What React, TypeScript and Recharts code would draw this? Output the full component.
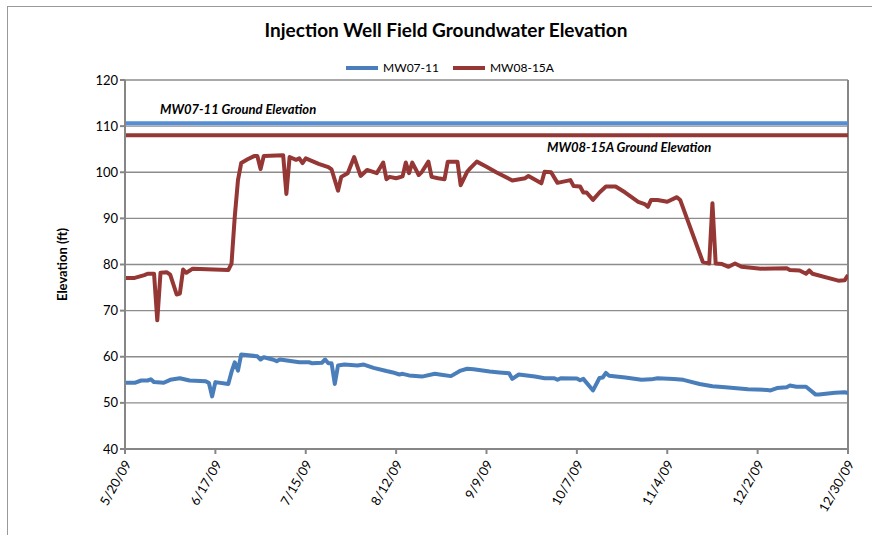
import React from "react";
import {
  LineChart, Line, XAxis, YAxis, CartesianGrid, ReferenceLine,
} from "recharts";

// days counted from 5/20/09
const mw0711Days = [
  0, 3, 5, 7, 8, 9, 12, 14, 17, 20, 25, 26, 27, 28, 32, 33, 34, 35, 36, 41,
  42, 43, 46, 47, 48, 54, 57, 58, 61, 62, 63, 64, 65, 66, 68, 72, 74, 77, 81, 83,
  85, 86, 88, 92, 96, 98, 101, 104, 106, 108, 113, 116, 119, 120, 122, 127, 130, 133, 134, 135,
  140, 141, 142, 145, 147, 148, 149, 150, 155, 160, 163, 165, 170, 173, 178, 182, 186, 193, 199, 200,
  202, 205, 206, 208, 211, 214, 215, 220, 223, 224,
];
const mw0711Elev = [
  54.35, 54.35, 54.85, 54.85, 55.1, 54.5, 54.35, 55.0, 55.35, 54.85, 54.7, 54.3, 51.4, 54.5, 54.1, 56.7, 58.8, 57.0, 60.5, 60.1,
  59.4, 59.9, 59.35, 59.05, 59.4, 58.8, 58.8, 58.6, 58.7, 59.4, 58.6, 58.6, 54.1, 58.1, 58.3, 58.1, 58.3, 57.6, 56.9, 56.6,
  56.15, 56.3, 55.95, 55.7, 56.3, 56.1, 55.8, 57.0, 57.4, 57.3, 56.8, 56.6, 56.4, 55.2, 56.15, 55.7, 55.35, 55.35, 55.0, 55.35,
  55.3, 54.9, 55.2, 52.7, 55.4, 55.5, 56.5, 55.9, 55.5, 55.0, 55.1, 55.35, 55.2, 55.0, 54.1, 53.6, 53.4, 52.95, 52.8, 52.7,
  53.2, 53.4, 53.75, 53.5, 53.5, 51.8, 51.8, 52.2, 52.3, 52.1,
];

const mw0815Days = [
  0, 3, 6, 7, 9, 10, 11, 13, 14, 16, 17, 18, 19, 21, 32, 33, 34, 35, 36, 38,
  40, 41, 42, 43, 49, 50, 51, 53, 54, 55, 56, 60, 63, 64, 66, 67, 69, 71, 73, 75,
  78, 80, 81, 82, 84, 86, 87, 88, 89, 91, 92, 94, 95, 97, 99, 100, 103, 104, 106, 107,
  109, 112, 115, 120, 124, 125, 129, 130, 132, 134, 138, 139, 141, 142, 143, 145, 147, 149, 152, 155,
  159, 161, 162, 163, 165, 168, 171, 172, 179, 181, 182, 183, 185, 187, 189, 191, 197, 205, 206, 209,
  211, 212, 213, 221, 223, 224,
];
const mw0815Elev = [
  77.1, 77.1, 77.7, 78.0, 78.0, 67.9, 78.2, 78.3, 77.8, 73.5, 73.7, 78.9, 78.2, 79.1, 78.8, 80.2, 90.3, 98.3, 102.0, 102.8,
  103.5, 103.5, 100.7, 103.5, 103.7, 95.3, 103.3, 102.7, 103.0, 102.0, 103.0, 101.8, 101.1, 100.6, 96.0, 99.0, 99.8, 103.3, 99.2, 100.5,
  99.8, 102.1, 98.5, 99.0, 98.7, 99.1, 102.1, 99.8, 102.1, 99.4, 100.1, 102.3, 99.0, 98.7, 98.5, 102.3, 102.3, 97.2, 100.1, 100.9,
  102.3, 101.2, 100.0, 98.2, 98.7, 99.2, 97.6, 100.1, 100.0, 97.7, 98.3, 97.0, 96.9, 95.6, 95.6, 94.0, 95.6, 96.9, 96.9, 95.6,
  93.6, 93.1, 92.5, 94.0, 94.0, 93.6, 94.6, 94.0, 80.6, 80.2, 93.3, 80.2, 80.1, 79.5, 80.2, 79.5, 79.1, 79.2, 78.8, 78.7,
  78.0, 78.7, 78.0, 76.5, 76.6, 77.7,
];

const xTicks = [0, 28, 56, 84, 112, 140, 168, 196, 224];
const xTickLabels = ["5/20/09", "6/17/09", "7/15/09", "8/12/09", "9/9/09", "10/7/09", "11/4/09", "12/2/09", "12/30/09"];
const yTicks = [40, 50, 60, 70, 80, 90, 100, 110, 120];

const MW0711_GROUND = 110.6;
const MW0815_GROUND = 108;

const BLUE = "#4A7EBB";
const RED = "#953735";
const FONT = "Lato, 'Open Sans', sans-serif";

const mw0711Data = mw0711Days.map((d, i) => ({ day: d, elev: mw0711Elev[i] }));
const mw0815Data = mw0815Days.map((d, i) => ({ day: d, elev: mw0815Elev[i] }));

// eslint-disable-next-line @typescript-eslint/no-explicit-any
const DateTick = ({ x, y, payload }: any) => {
  const idx = xTicks.indexOf(payload.value);
  return (
    <text
      x={x + 4}
      y={y + 6}
      transform={`rotate(-60 ${x + 4} ${y + 6})`}
      textAnchor="end"
      dominantBaseline="middle"
      fontSize={13}
      fontFamily={FONT}
      fill="#000"
    >
      {xTickLabels[idx] ?? ""}
    </text>
  );
};

// eslint-disable-next-line @typescript-eslint/no-explicit-any
const GroundLabel = ({ viewBox, text, dx, dy }: any) => (
  <text
    x={viewBox.x + dx}
    y={viewBox.y + dy}
    fontSize={13}
    fontWeight={700}
    fontStyle="italic"
    fontFamily={FONT}
    fill="#000"
  >
    {text}
  </text>
);

export default function App() {
  return (
    <div style={{ position: "relative", width: 872, height: 535, overflow: "hidden", background: "#fff", fontFamily: FONT }}>
      <style>{`body{margin:0}`}</style>
      <div style={{ position: "absolute", left: 7, top: 6, width: 900, height: 600, border: "1px solid #999" }} />
      <div style={{ position: "absolute", left: 0, width: 892, top: 18, textAlign: "center", fontSize: 19, fontWeight: 700 }}>
        Injection Well Field Groundwater Elevation
      </div>
      <div style={{ position: "absolute", left: 0, width: 900, top: 60, display: "flex", justifyContent: "center", fontSize: 12 }}>
        <span style={{ display: "inline-flex", alignItems: "center", marginRight: 14 }}>
          <span style={{ display: "inline-block", width: 32, height: 4, background: BLUE, marginRight: 5 }} />MW07-11
        </span>
        <span style={{ display: "inline-flex", alignItems: "center" }}>
          <span style={{ display: "inline-block", width: 32, height: 4, background: RED, marginRight: 5 }} />MW08-15A
        </span>
      </div>
      <div style={{ position: "absolute", left: 0, top: 0 }}>
        <LineChart width={872} height={535} margin={{ top: 80, right: 24, bottom: 56, left: 50 }}>
          <CartesianGrid vertical={false} stroke="#8c8c8c" strokeWidth={1.3} />
          <XAxis
            type="number"
            dataKey="day"
            domain={[0, 224]}
            ticks={xTicks}
            tick={<DateTick />}
            stroke="#868686"
            strokeWidth={2}
            tickSize={5}
            interval={0}
            allowDataOverflow
          />
          <YAxis
            type="number"
            domain={[40, 120]}
            ticks={yTicks}
            width={75}
            stroke="#868686"
            strokeWidth={2}
            tickSize={5}
            tick={{ fontSize: 13, fill: "#000", fontFamily: FONT }}
            label={{
              value: "Elevation (ft)",
              angle: -90,
              position: "insideLeft",
              offset: 12,
              style: { textAnchor: "middle", fontSize: 13, fontWeight: 700, fill: "#000", fontFamily: FONT },
            }}
          />
          <ReferenceLine x={224} stroke="#868686" strokeWidth={2} />
          <ReferenceLine
            y={MW0711_GROUND}
            stroke="#558ED5"
            strokeWidth={4}
            label={<GroundLabel text="MW07-11 Ground Elevation" dx={35} dy={-9} />}
          />
          <ReferenceLine
            y={MW0815_GROUND}
            stroke={RED}
            strokeWidth={4}
            label={<GroundLabel text="MW08-15A Ground Elevation" dx={422} dy={17} />}
          />
          <Line
            data={mw0711Data}
            dataKey="elev"
            name="MW07-11"
            stroke={BLUE}
            strokeWidth={4}
            dot={false}
            type="linear"
            strokeLinejoin="round"
            isAnimationActive={false}
          />
          <Line
            data={mw0815Data}
            dataKey="elev"
            name="MW08-15A"
            stroke={RED}
            strokeWidth={4}
            dot={false}
            type="linear"
            strokeLinejoin="round"
            isAnimationActive={false}
          />
        </LineChart>
      </div>
    </div>
  );
}
